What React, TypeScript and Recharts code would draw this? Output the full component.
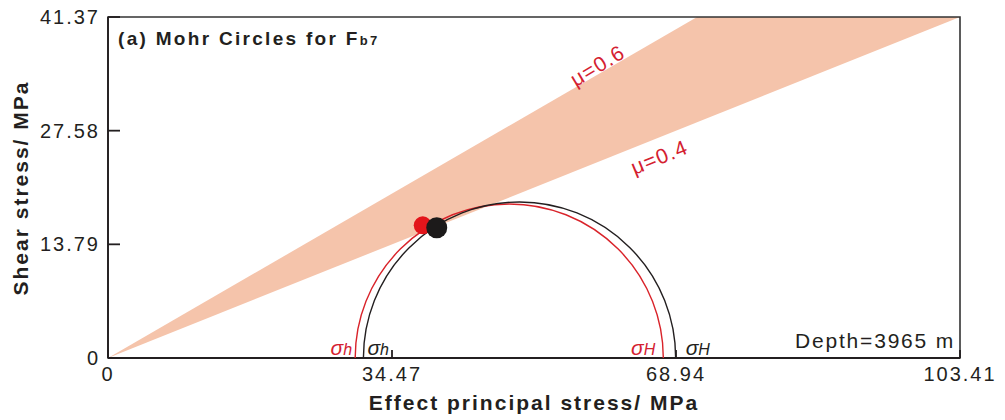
import React from "react"
import { ComposedChart, Area, Scatter, XAxis, YAxis, ReferenceArea, ReferenceDot } from "recharts"

// axis ticks (MPa)
const xTicks = [0, 34.47, 68.94, 103.41]
const yTicks = [0, 13.79, 27.58, 41.37]

// friction envelope band
const bandX = [0, 71.5, 103.41]
const bandLow = [0, 28.6, 41.37]
const bandHigh = [0, 41.37, 41.37]

// Mohr circles: [sigma_h, sigma_H]
const redStress = [30.0, 67.4]
const blackStress = [31.0, 68.9]
const stressSubs = ["h", "H"]

// stress state on fault plane
const redPoint = { x: 38.2, y: 16.1 }
const blackPoint = { x: 39.9, y: 15.8 }

// friction labels
const muNames = ["μ=0.6", "μ=0.4"]
const muX = [59.4, 66.9]
const muY = [35.5, 24.4]

const FONT = '"Liberation Sans", Arial, sans-serif'
const RED = "#d9232a"
const RED_TEXT = "#d42030"
const DARK = "#231f20"

const bandData = bandX.map((x, i) => ({ x, low: bandLow[i], high: bandHigh[i] }))
const redFeet = redStress.map((x, i) => ({ x, y: 0, sub: stressSubs[i] }))
const blackFeet = blackStress.map((x, i) => ({ x, y: 0, sub: stressSubs[i] }))

// semicircle through the two feet (x and y scales are equal here)
function arcLine(color: string) {
  return (p: any) => {
    const pts = p.points || []
    if (pts.length < 2) return <g />
    const a = pts[0]
    const b = pts[pts.length - 1]
    const r = (b.x - a.x) / 2
    return <path d={`M${a.x},${a.y} A${r},${r} 0 0 1 ${b.x},${b.y}`} fill="none" stroke={color} strokeWidth={1.4} />
  }
}

// sigma label next to each foot of a circle
function footLabel(color: string, side: "left" | "right", gaps: number[]) {
  return (p: any) => {
    const idx = p.payload.sub === "h" ? 0 : 1
    const gap = gaps[idx]
    const x = side === "left" ? p.cx - gap : p.cx + gap
    return (
      <text
        x={x}
        y={p.cy - 3}
        textAnchor={side === "left" ? "end" : "start"}
        fill={color}
        fontFamily={FONT}
        fontStyle="italic"
        fontSize={21}
      >
        σ<tspan fontSize={16}>{p.payload.sub}</tspan>
      </text>
    )
  }
}

function dotShape(color: string, r: number) {
  return (p: any) => <circle cx={p.cx} cy={p.cy} r={r} fill={color} />
}

function muLabel(text: string, angle: number) {
  return (p: any) => {
    const vb = p.viewBox || {}
    return (
      <text
        x={vb.x}
        y={vb.y}
        transform={`rotate(${angle} ${vb.x} ${vb.y})`}
        textAnchor="middle"
        dominantBaseline="central"
        fill={RED_TEXT}
        fontFamily={FONT}
        fontSize={21}
        letterSpacing={1.2}
      >
        {text}
      </text>
    )
  }
}

export default function App() {
  return (
    <div style={{ position: "absolute", left: 0, top: 0, width: 1005, height: 420, background: "#fff" }}>
      <ComposedChart width={1005} height={420} data={bandData} margin={{ top: 17, right: 45, bottom: 32, left: 48 }}>
        <XAxis
          type="number"
          dataKey="x"
          domain={[0, 103.41]}
          ticks={xTicks}
          tickFormatter={(v) => String(v)}
          height={30}
          axisLine={{ stroke: DARK, strokeWidth: 1.8 }}
          tickLine={{ stroke: DARK, strokeWidth: 1.8 }}
          tickSize={-8}
          tickMargin={17}
          tick={{ fill: DARK, fontSize: 20, fontFamily: FONT, letterSpacing: 2 }}
          interval={0}
        />
        <YAxis
          type="number"
          domain={[0, 41.37]}
          ticks={yTicks}
          tickFormatter={(v) => String(v)}
          width={60}
          allowDataOverflow
          axisLine={{ stroke: DARK, strokeWidth: 1.8 }}
          tickLine={{ stroke: DARK, strokeWidth: 1.8 }}
          tickSize={-12}
          tickMargin={20}
          tick={{ fill: DARK, fontSize: 20, fontFamily: FONT, letterSpacing: 2 }}
          interval={0}
        />
        <Area
          type="linear"
          dataKey={(d: any) => [d.low, d.high]}
          stroke="none"
          fill="#f5c4ab"
          fillOpacity={1}
          isAnimationActive={false}
        />
        <Scatter
          data={redFeet}
          dataKey="y"
          line={arcLine(RED)}
          lineType="joint"
          shape={footLabel(RED_TEXT, "left", [3, 8])}
          isAnimationActive={false}
        />
        <Scatter
          data={blackFeet}
          dataKey="y"
          line={arcLine(DARK)}
          lineType="joint"
          shape={footLabel(DARK, "right", [4, 10])}
          isAnimationActive={false}
        />
        <Scatter data={[redPoint]} dataKey="y" shape={dotShape("#e3151b", 9)} isAnimationActive={false} />
        <Scatter data={[blackPoint]} dataKey="y" shape={dotShape("#1c1a1a", 10.5)} isAnimationActive={false} />
        <ReferenceDot x={muX[0]} y={muY[0]} r={0} stroke="none" fill="none" label={{ content: muLabel(muNames[0], -31) }} />
        <ReferenceDot x={muX[1]} y={muY[1]} r={0} stroke="none" fill="none" label={{ content: muLabel(muNames[1], -22) }} />
        <ReferenceArea x1={0} x2={103.41} y1={0} y2={41.37} fill="none" stroke="#333" strokeWidth={1.6} />
      </ComposedChart>
      <svg width={1005} height={420} style={{ position: "absolute", left: 0, top: 0, pointerEvents: "none" }}>
        <text x={118} y={45} fill={DARK} fontFamily={FONT} fontWeight="bold" fontSize={19} letterSpacing={2.3}>
          (a) Mohr Circles for F<tspan fontSize={13}>b7</tspan>
        </text>
        <text x={955} y={348} textAnchor="end" fill={DARK} fontFamily={FONT} fontSize={21} letterSpacing={1.8}>
          Depth=3965 m
        </text>
        <text x={534} y={410} textAnchor="middle" fill={DARK} fontFamily={FONT} fontWeight="bold" fontSize={21} letterSpacing={2}>
          Effect principal stress/ MPa
        </text>
        <text
          transform="translate(28,188) rotate(-90)"
          textAnchor="middle"
          fill={DARK}
          fontFamily={FONT}
          fontWeight="bold"
          fontSize={21}
          letterSpacing={2}
        >
          Shear stress/ MPa
        </text>
      </svg>
    </div>
  )
}
